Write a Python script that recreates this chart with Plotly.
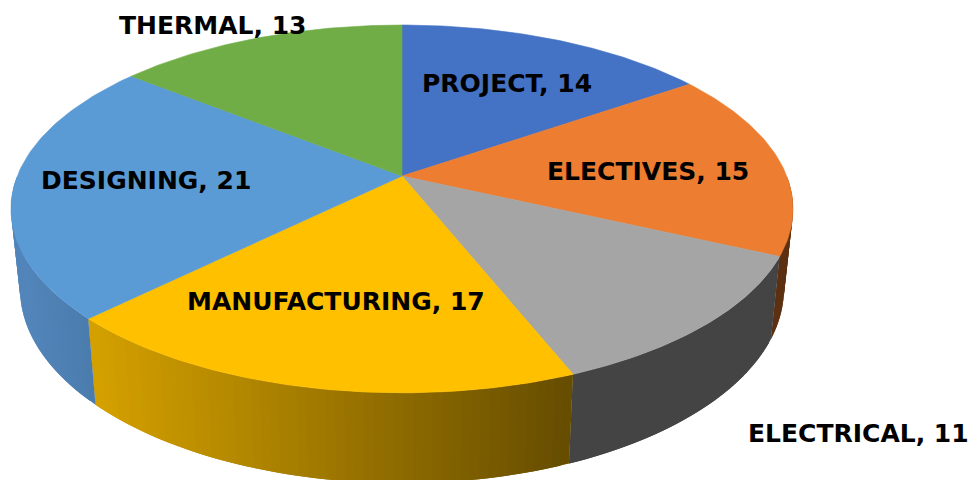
import numpy as np
import plotly.graph_objects as go

categories = ["PROJECT", "ELECTIVES", "ELECTRICAL", "MANUFACTURING", "DESIGNING", "THERMAL"]
values = [14, 15, 11, 17, 21, 13]

top_colors = ["#4472C4", "#ED7D31", "#A5A5A5", "#FFC000", "#5B9BD5", "#70AD47"]
wall_left = ["#2F5597", "#6B3A17", "#444444", "#D4A000", "#5285BA", "#4E7A32"]
wall_right = ["#2F5597", "#5C3012", "#444444", "#654C00", "#4A7BAC", "#4E7A32"]

label_x = [420, 545, 746, 185, 39, 117]
label_y = [83, 171, 433, 301, 180, 25]

# perspective of the disc, in page pixels
CX, CY = 402, 176
KX, KY, PERSP = 384.7, 146.5, 0.179


def top_rim(theta):
    u, v = np.sin(theta), np.cos(theta)
    w = 1 + PERSP * v
    return CX + KX * u / w, (CY - KY * v) / w


def low_rim(theta):
    x, y = top_rim(theta)
    return CX + 0.977 * (x - CX), y + 79.5 + (y - 205) * 0.058


def mix(c1, c2, t):
    a = [int(c1[i:i + 2], 16) for i in (1, 3, 5)]
    b = [int(c2[i:i + 2], 16) for i in (1, 3, 5)]
    return "rgb(%d,%d,%d)" % tuple(round(p + (q - p) * t) for p, q in zip(a, b))


def poly(xs, ys, color, width=0.6):
    return go.Scatter(x=list(xs), y=list(ys), mode="lines", fill="toself", fillcolor=color,
                      line=dict(color=color, width=width), hoverinfo="skip", showlegend=False)


edges = np.radians(np.cumsum([0] + values) / sum(values) * 360)
fig = go.Figure()

# side wall first, in thin strips so the shading can run left to right.
# each strip runs on under the next one, otherwise the seams show
for i in range(len(values)):
    a0 = max(edges[i], np.radians(90))
    a1 = min(edges[i + 1], np.radians(270))
    if a1 <= a0:
        continue
    n = max(2, int(np.degrees(a1 - a0) / 1.2))
    steps = np.linspace(a0, a1, n + 1)
    ends = sorted([low_rim(a0)[0], low_rim(a1)[0]])
    for j in range(n):
        part = steps[j:j + 3]
        tx, ty = top_rim(part)
        lx, ly = low_rim(part[::-1])
        xs = [*tx, *lx, tx[0]]
        ys = [*ty, *ly, ty[0]]
        t = min(1, max(0, (np.mean(xs) - ends[0]) / (ends[1] - ends[0])))
        fig.add_trace(poly(xs, ys, mix(wall_left[i], wall_right[i], t), 0))

# top of the disc
for i in range(len(values)):
    th = np.linspace(edges[i], edges[i + 1], 80)
    xs, ys = top_rim(th)
    fig.add_trace(poly([CX, *xs, CX], [CY, *ys, CY], top_colors[i]))

for cat, val, lx, ly in zip(categories, values, label_x, label_y):
    fig.add_annotation(x=lx, y=ly, text=f"{cat}, {val}", showarrow=False, xanchor="left", yanchor="middle",
                       font=dict(family="DejaVu Sans", size=25, color="black", weight="bold"))

fig.update_layout(width=976, height=480, margin=dict(l=0, r=0, t=0, b=0),
                  paper_bgcolor="white", plot_bgcolor="white",
                  xaxis=dict(range=[0, 976], visible=False, fixedrange=True),
                  yaxis=dict(range=[480, 0], visible=False, fixedrange=True))
fig.write_html("out.html", config={"displayModeBar": False},
               post_script="document.body.style.margin='0';document.body.style.overflow='hidden';")
